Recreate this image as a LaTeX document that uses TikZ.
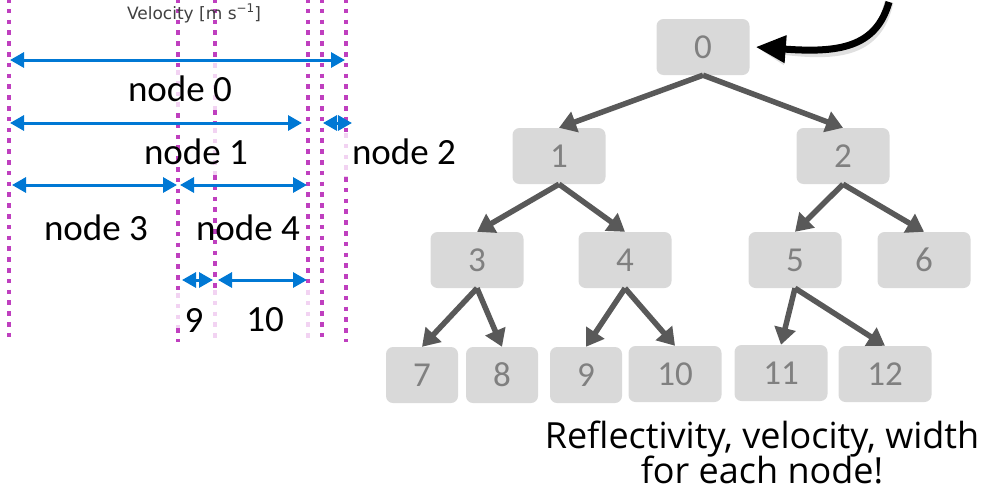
\documentclass[tikz,border=0pt]{standalone}
\usepackage{fontspec}
\setmainfont{Carlito}
\newfontfamily\notefont{Open Sans}
\newfontfamily\plotfont{DejaVu Sans}
\usetikzlibrary{arrows.meta}

\definecolor{binmagenta}{HTML}{BF3FBF}
\definecolor{binpale}{HTML}{F2D3F2}
\definecolor{spanblue}{HTML}{0078D4}
\definecolor{boxgray}{HTML}{D9D9D9}
\definecolor{numgray}{HTML}{808080}
\definecolor{edgegray}{HTML}{595959}

\tikzset{
  binline/.style={binmagenta, line width=4pt, dash pattern=on 4.5pt off 6.3pt},
  binfaded/.style={binline, binpale},
  span/.style={{Triangle[length=14pt,width=15pt]}-{Triangle[length=14pt,width=15pt]},
    line width=3pt, spanblue},
  spanlabel/.style={font=\fontsize{37}{44}\selectfont},
  treebox/.style={rounded corners=7pt, fill=boxgray, text=numgray, inner sep=0pt,
    minimum width=93pt, minimum height=56pt, font=\fontsize{35}{42}\selectfont},
  leafbox/.style={treebox, minimum width=72pt},
  treeedge/.style={-{Triangle[length=17pt,width=21pt]}, line width=5.5pt, edgegray},
  caption/.style={anchor=base, inner sep=0pt, font=\notefont\fontsize{36}{43}\selectfont},
}

\begin{document}
\begin{tikzpicture}[x=1pt,y=-1pt]
    \useasboundingbox (0,0) rectangle (1000,490);

    % Draw the velocity bin edges
    \draw[binline] (9,-2) -- (9,342);
    \draw[binline] (178,-2) -- (178,70);
    \draw[binfaded] (178,70) -- (178,113);
    \draw[binline] (178,113) -- (178,293);
    \draw[binfaded] (178,293) -- (178,328);
    \draw[binline] (178,328) -- (178,342);
    \draw[binline] (215,-2) -- (215,63);
    \draw[binfaded] (215,63) -- (215,110);
    \draw[binline] (215,110) -- (215,128);
    \draw[binfaded] (215,128) -- (215,175);
    \draw[binline] (215,175) -- (215,290);
    \draw[binfaded] (215,290) -- (215,342);
    \draw[binline] (308,-2) -- (308,290);
    \draw[binfaded] (308,290) -- (308,342);
    \draw[binline] (322,-2) -- (322,342);
    \draw[binline] (346,-2) -- (346,133);
    \draw[binfaded] (346,133) -- (346,177);
    \draw[binline] (346,177) -- (346,342);

    % Axis title of the plot
    \node[text=black!75, font=\plotfont\fontsize{17}{19}\selectfont] (vtitle) at (194,13)
      {Velocity [m s\raisebox{0.42em}{\fontsize{12}{13}\selectfont −1}]};

    % Draw the spans of the nodes
    \draw[span] (10,60) -- (345,60);
    \node[spanlabel] (lab0) at (180,89) {node 0};
    \draw[span] (10,123) -- (302,123);
    \draw[span] (323,123) -- (352,123);
    \node[spanlabel] (lab1) at (196,152) {node 1};
    \node[spanlabel] (lab2) at (404,152) {node 2};
    \draw[span] (12,185) -- (177,185);
    \draw[span] (180,185) -- (307,185);
    \node[spanlabel] (lab3) at (96,228) {node 3};
    \node[spanlabel] (lab4) at (248,228) {node 4};
    \draw[span] (182,280) -- (213,280);
    \draw[span] (218,280) -- (307,280);
    \node[spanlabel] (lab9) at (194,320) {9};
    \node[spanlabel] (lab10) at (265,320) {10};

    % Draw the tree
    \node[treebox] (n0) at (703,47) {0};
    \node[treebox] (n1) at (559,156) {1};
    \node[treebox] (n2) at (843,156) {2};
    \node[treebox] (n3) at (477,260) {3};
    \node[treebox] (n4) at (625,260) {4};
    \node[treebox] (n5) at (795,260) {5};
    \node[treebox] (n6) at (924,260) {6};
    \node[leafbox] (n7) at (422,375) {7};
    \node[leafbox] (n8) at (502,375) {8};
    \node[leafbox] (n9) at (586,375) {9};
    \node[treebox] (n10) at (675,374) {10};
    \node[treebox] (n11) at (781,373) {11};
    \node[treebox] (n12) at (885,374) {12};

    \draw[treeedge] (n0.south) -- (n1.north);
    \draw[treeedge] (n0.south) -- (n2.north);
    \draw[treeedge] (n1.south) -- (n3.north);
    \draw[treeedge] (n1.south) -- (n4.north);
    \draw[treeedge] (n2.south) -- (n5.north);
    \draw[treeedge] (n2.south) -- (n6.north);
    \draw[treeedge] (n3.south) -- (n7.north);
    \draw[treeedge] (n3.south) -- (n8.north);
    \draw[treeedge] (n4.south) -- (n9.north);
    \draw[treeedge] (n4.south) -- (n10.north);
    \draw[treeedge] (n5.south) -- (n11.north);
    \draw[treeedge] (n5.south) -- (n12.north);

    % Curved pointer to the root, with its shadow
    \coordinate (pstart) at (889,2);
    \coordinate (ptip) at ([xshift=6pt]n0.east);
    \draw[-{Triangle[length=30pt,width=27pt]}, line width=9pt, black, opacity=0.12,
      shift={(2,4)}] (pstart) .. controls (876,48) and (838,53) .. (ptip);
    \draw[-{Triangle[length=30pt,width=26pt]}, line width=7pt, black]
      (pstart) .. controls (876,48) and (838,53) .. (ptip);

    % Caption
    \node[caption] (cap1) at (762,448) {Reflectivity, velocity, width};
    \node[caption] (cap2) at (762,483) {for each node!};

\end{tikzpicture}
\end{document}
